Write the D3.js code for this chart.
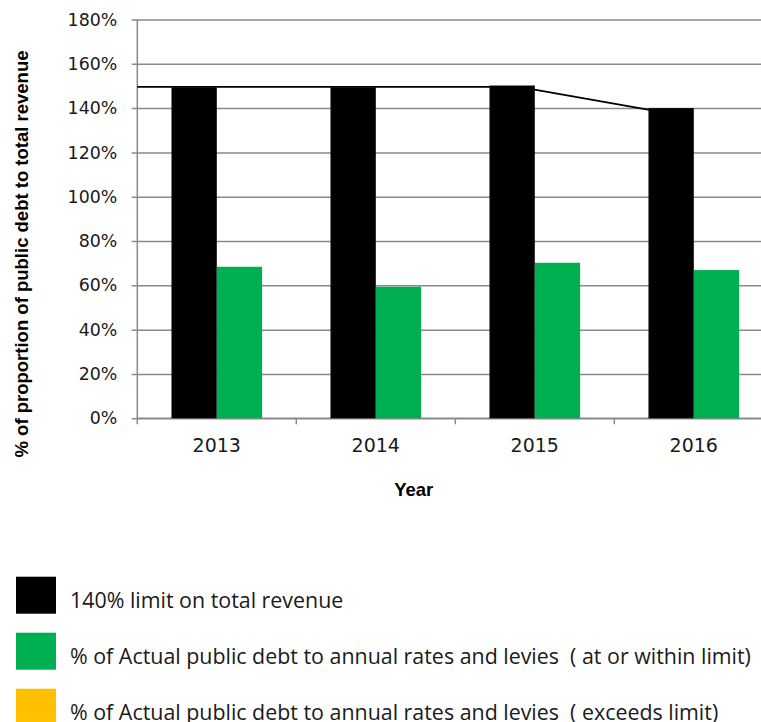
<!DOCTYPE html>
<html>
<head>
<meta charset="utf-8">
<script src="https://cdn.jsdelivr.net/npm/d3@7"></script>
<style>
  html, body { margin: 0; padding: 0; background: #fff; }
  svg { display: block; }
  text { white-space: pre; }
</style>
</head>
<body>
<svg id="chart" width="761" height="722"></svg>
<script>
// Years on the category axis
const years = ["2013", "2014", "2015", "2016"];
// Limit bars (black) and actual debt ratio bars (green), in percent
const limitValues = [149.4, 149.4, 150.2, 140.0];
const actualValues = [68.4, 59.4, 70.2, 66.9];
// Limit reference line: year positions and percent values
const limitLineYears = [2012.5, 2014.9, 2015.72];
const limitLineValues = [149.6, 149.6, 139.2];
// Value axis ticks
const yTicks = [0, 20, 40, 60, 80, 100, 120, 140, 160, 180];
// Legend entries
const legendLabels = [
  "140% limit on total revenue",
  "% of Actual public debt to annual rates and levies  ( at or within limit)",
  "% of Actual public debt to annual rates and levies  ( exceeds limit)"
];
const legendColors = ["#000000", "#00B050", "#FFC000"];

const svg = d3.select("#chart");
const plot = { left: 137.3, right: 773.3, top: 19.5, bottom: 418.3 };
const gridColor = "#8a8a8a";
const textColor = "#1a1a1a";

const x = d3.scaleBand()
  .domain(years)
  .range([plot.left, plot.right])
  .paddingInner(0.43)
  .paddingOuter(0.215);
const xSub = d3.scaleBand()
  .domain(["limit", "actual"])
  .range([0, x.bandwidth()]);
const xYear = d3.scaleLinear()
  .domain([2012.5, 2016.5])
  .range([plot.left, plot.right]);
const y = d3.scaleLinear().domain([0, 180]).range([plot.bottom, plot.top]);

// Horizontal gridlines with outward tick marks
const yAxis = svg.append("g")
  .attr("transform", `translate(${plot.left},0)`)
  .call(d3.axisLeft(y).tickValues(yTicks).tickSize(-(plot.right - plot.left)).tickPadding(20)
    .tickFormat(d => d + "%"));
yAxis.select(".domain").remove();
yAxis.selectAll(".tick line")
  .attr("x1", -5.6)
  .attr("stroke", gridColor).attr("stroke-width", 1.5);
yAxis.selectAll(".tick text")
  .attr("x", -20)
  .attr("fill", textColor)
  .style("font-family", "'DejaVu Sans', sans-serif")
  .style("font-size", "17.4px");

// Vertical value axis line
svg.append("line")
  .attr("x1", plot.left).attr("x2", plot.left)
  .attr("y1", plot.top).attr("y2", plot.bottom)
  .attr("stroke", gridColor).attr("stroke-width", 1.5);

// Category axis with ticks at category boundaries
const boundaries = d3.range(years.length + 1).map(i => plot.left + i * x.step());
svg.append("line")
  .attr("x1", plot.left).attr("x2", plot.right)
  .attr("y1", plot.bottom).attr("y2", plot.bottom)
  .attr("stroke", gridColor).attr("stroke-width", 1.5);
svg.append("g").selectAll("line")
  .data(boundaries)
  .join("line")
  .attr("x1", d => d).attr("x2", d => d)
  .attr("y1", plot.bottom).attr("y2", plot.bottom + 6)
  .attr("stroke", gridColor).attr("stroke-width", 1.5);
svg.append("g").selectAll("text")
  .data(years)
  .join("text")
  .attr("x", d => x(d) + x.bandwidth() / 2)
  .attr("y", 452.3)
  .attr("text-anchor", "middle")
  .attr("fill", textColor)
  .style("font-family", "'DejaVu Sans', sans-serif")
  .style("font-size", "19px")
  .text(d => d);

// Limit reference line (drawn beneath the bars)
const linePts = limitLineYears.map((yr, i) => [xYear(yr), y(limitLineValues[i])]);
svg.append("path")
  .attr("d", d3.line()(linePts))
  .attr("fill", "none")
  .attr("stroke", "#000")
  .attr("stroke-width", 1.8);

// Grouped bars
const groups = svg.append("g").selectAll("g")
  .data(years)
  .join("g")
  .attr("transform", d => `translate(${x(d)},0)`);
groups.append("rect")
  .attr("x", xSub("limit"))
  .attr("width", xSub.bandwidth())
  .attr("y", (d, i) => y(limitValues[i]))
  .attr("height", (d, i) => y(0) - y(limitValues[i]))
  .attr("fill", "#000");
groups.append("rect")
  .attr("x", xSub("actual"))
  .attr("width", xSub.bandwidth())
  .attr("y", (d, i) => y(actualValues[i]))
  .attr("height", (d, i) => y(0) - y(actualValues[i]))
  .attr("fill", "#00B050");

// Axis titles
svg.append("text")
  .attr("transform", "translate(28,254) rotate(-90)")
  .attr("text-anchor", "middle")
  .attr("fill", "#000")
  .style("font-family", "'Liberation Sans', Arial, sans-serif")
  .style("font-weight", "bold")
  .style("font-size", "18.5px")
  .text("% of proportion of public debt to total revenue");
svg.append("text")
  .attr("x", 413.7).attr("y", 495.7)
  .attr("text-anchor", "middle")
  .attr("fill", "#000")
  .style("font-family", "'Liberation Sans', Arial, sans-serif")
  .style("font-weight", "bold")
  .style("font-size", "18.5px")
  .text("Year");

// Legend
const legend = svg.append("g").selectAll("g")
  .data(legendLabels)
  .join("g")
  .attr("transform", (d, i) => `translate(16,${576.7 + i * 56})`);
legend.append("rect")
  .attr("width", 40).attr("height", 37)
  .attr("fill", (d, i) => legendColors[i]);
legend.append("text")
  .attr("x", 54).attr("y", 31)
  .attr("fill", textColor)
  .style("font-family", "'Open Sans', sans-serif")
  .style("font-size", "21.4px")
  .text(d => d);
</script>
</body>
</html>
